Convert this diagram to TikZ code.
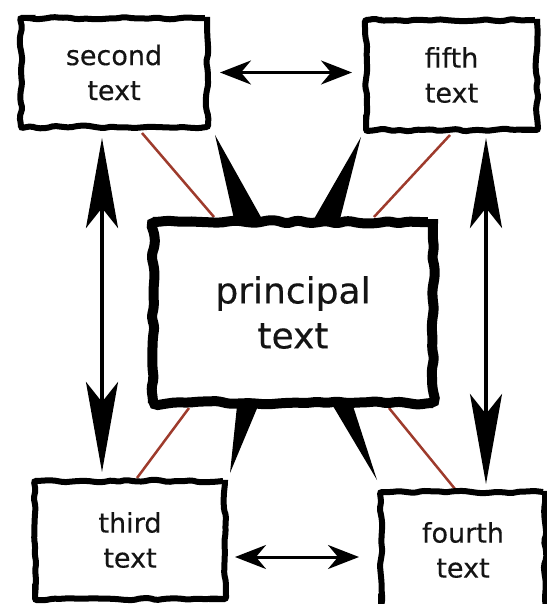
\documentclass[tikz,border=0pt]{standalone}
\usepackage{fontspec}
\setmainfont{DejaVu Sans}[FakeBold=0.35]
\usetikzlibrary{calc,arrows.meta,decorations.pathmorphing}
\pgfdeclarelayer{bg}
\pgfsetlayers{bg,main}
\definecolor{ink}{HTML}{141414}
\definecolor{rust}{HTML}{9E3B2C}
\tikzset{
  rough/.style={draw, fill=white, text=ink, align=center, inner sep=0pt,
    line width=6pt, rounded corners=2pt, decorate,
    decoration={random steps, segment length=8pt, amplitude=1.4pt}},
  small/.style={rough, font=\fontsize{27}{35}\selectfont},
  big/.style={rough, line width=10pt, rounded corners=5pt,
    decoration={random steps, segment length=10pt, amplitude=2pt},
    font=\fontsize{36}{45}\selectfont},
  vlink/.style={line width=4pt,
    {Stealth[length=90pt,width=32pt,inset=20pt]}-{Stealth[length=90pt,width=32pt,inset=20pt]}},
  hlink/.style={line width=3pt,
    {Stealth[length=31pt,width=24pt,inset=10pt]}-{Stealth[length=31pt,width=24pt,inset=10pt]}},
  redline/.style={rust, line width=2.5pt},
}
\pgfmathsetseed{7}

\begin{document}
\begin{tikzpicture}[x=1pt, y=-1pt]
  \useasboundingbox (0,0) rectangle (546,604);
  \node[small, minimum width=186pt, minimum height=109pt] (second) at (114,72.5) {second\\text};
  \node[small, minimum width=171pt, minimum height=110pt] (fifth) at (451.5,75) {fifth\\text};
  \node[big, minimum width=280pt, minimum height=181pt] (principal) at (293,312.5) {principal\\text};
  \node[small, minimum width=190pt, minimum height=118pt] (third) at (130,540) {third\\text};
  \node[small, minimum width=164pt, minimum height=116pt] (fourth) at (463,550) {fourth\\text};

  \begin{pgfonlayer}{bg}
    % red lines
    \draw[redline] ($(second.south west)+(124,3)$) -- ($(principal.north west)+(66,0)$);
    \draw[redline] ($(fifth.south west)+(87,2)$) -- ($(principal.north west)+(226,0)$);
    \draw[redline] ($(principal.south west)+(41,0)$) -- ($(third.north west)+(105,0)$);
    \draw[redline] ($(principal.south west)+(241,0)$) -- ($(fourth.north west)+(77,0)$);
    % black wedges
    \fill ($(second.south east)+(5,5)$) -- ($(principal.north west)+(86,2)$) -- ($(principal.north west)+(114,2)$) -- cycle;
    \fill ($(fifth.south west)+(-2,4)$) -- ($(principal.north west)+(166,2)$) -- ($(principal.north west)+(192,2)$) -- cycle;
    \fill ($(third.north east)+(2,-5)$) -- ($(principal.south west)+(89,-2)$) -- ($(principal.south west)+(110,-2)$) -- cycle;
    \fill ($(fourth.north west)+(-1,-9)$) -- ($(principal.south west)+(185,-2)$) -- ($(principal.south west)+(205,-2)$) -- cycle;
  \end{pgfonlayer}

  \draw[hlink, shorten <=10pt, shorten >=11pt] (second.east) -- (second.east -| fifth.west);
  \draw[hlink, shorten <=7pt, shorten >=19pt] ([yshift=-17pt]third.east) -- ([yshift=-17pt]third.east -| fourth.west);
  \draw[vlink, shorten <=8pt, shorten >=6pt] ([xshift=-12pt]second.south) -- ([xshift=-12pt]second.south |- third.north);
  \draw[vlink, shorten <=5pt, shorten >=5pt] ([xshift=34.5pt]fifth.south) -- ([xshift=34.5pt]fifth.south |- fourth.north);
\end{tikzpicture}
\end{document}
